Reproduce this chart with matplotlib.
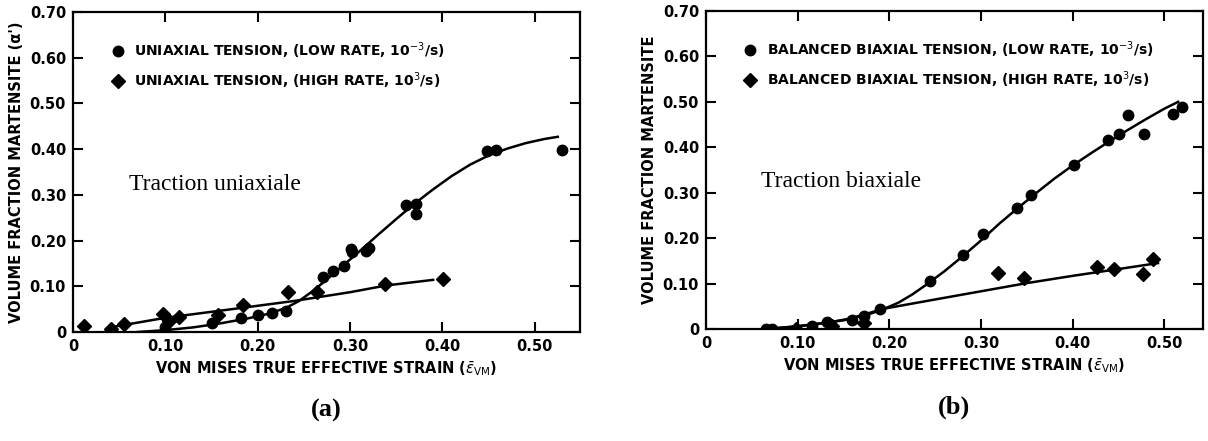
import matplotlib
matplotlib.use("Agg")
import matplotlib.pyplot as plt

# (a) uniaxial tension: measured points
uni_low_x = [0.100, 0.151, 0.182, 0.200, 0.216, 0.231, 0.271, 0.282, 0.293, 0.301, 0.302,
             0.317, 0.321, 0.361, 0.371, 0.371, 0.448, 0.458, 0.530]
uni_low_y = [0.010, 0.020, 0.031, 0.037, 0.041, 0.045, 0.121, 0.134, 0.145, 0.181, 0.174,
             0.177, 0.184, 0.277, 0.281, 0.259, 0.396, 0.398, 0.398]
uni_high_x = [0.012, 0.041, 0.055, 0.098, 0.104, 0.115, 0.157, 0.184, 0.233, 0.264, 0.338, 0.401]
uni_high_y = [0.014, 0.006, 0.018, 0.039, 0.025, 0.033, 0.037, 0.058, 0.087, 0.087, 0.106, 0.116]

# (a) fitted curves
uni_low_fit_x = [0.07, 0.10, 0.13, 0.16, 0.19, 0.21, 0.23, 0.245, 0.26, 0.275, 0.29, 0.31,
                 0.33, 0.35, 0.37, 0.39, 0.41, 0.43, 0.45, 0.47, 0.49, 0.51, 0.525]
uni_low_fit_y = [0.000, 0.004, 0.010, 0.019, 0.030, 0.039, 0.052, 0.068, 0.090, 0.115, 0.141,
                 0.176, 0.212, 0.247, 0.281, 0.312, 0.341, 0.366, 0.386, 0.401, 0.413, 0.422, 0.427]
uni_high_fit_x = [0.04, 0.10, 0.18, 0.24, 0.30, 0.34, 0.39]
uni_high_fit_y = [0.010, 0.031, 0.052, 0.068, 0.087, 0.102, 0.114]

# (b) balanced biaxial tension: measured points
bi_low_x = [0.066, 0.072, 0.116, 0.132, 0.159, 0.172, 0.190, 0.244, 0.280, 0.302, 0.339,
            0.355, 0.401, 0.439, 0.451, 0.460, 0.478, 0.509, 0.519]
bi_low_y = [0.000, 0.000, 0.007, 0.015, 0.019, 0.028, 0.043, 0.106, 0.162, 0.208, 0.267,
            0.296, 0.360, 0.417, 0.430, 0.471, 0.430, 0.474, 0.488]
bi_high_x = [0.098, 0.137, 0.172, 0.319, 0.347, 0.426, 0.445, 0.477, 0.488]
bi_high_y = [0.000, 0.006, 0.013, 0.123, 0.112, 0.137, 0.133, 0.120, 0.155]

# (b) fitted curves
bi_low_fit_x = [0.066, 0.10, 0.13, 0.16, 0.18, 0.195, 0.21, 0.225, 0.24, 0.26, 0.28, 0.30,
                0.32, 0.34, 0.36, 0.38, 0.40, 0.42, 0.44, 0.46, 0.48, 0.50, 0.515]
bi_low_fit_y = [0.000, 0.006, 0.013, 0.024, 0.034, 0.045, 0.058, 0.076, 0.097, 0.127, 0.160,
                0.195, 0.232, 0.266, 0.299, 0.331, 0.360, 0.387, 0.413, 0.438, 0.462, 0.485, 0.500]
bi_high_fit_x = [0.066, 0.10, 0.15, 0.195, 0.25, 0.30, 0.35, 0.40, 0.45, 0.493]
bi_high_fit_y = [0.000, 0.006, 0.019, 0.045, 0.065, 0.083, 0.101, 0.117, 0.132, 0.145]

xticks = [0, 0.1, 0.2, 0.3, 0.4, 0.5]
xtick_labels = ["0", "0.10", "0.20", "0.30", "0.40", "0.50"]
yticks = [0, 0.1, 0.2, 0.3, 0.4, 0.5, 0.6, 0.7]
ytick_labels = ["0", "0.10", "0.20", "0.30", "0.40", "0.50", "0.60", "0.70"]

plt.rcParams["font.family"] = "DejaVu Sans"
plt.rcParams["mathtext.fontset"] = "dejavusans"

fig = plt.figure(figsize=(12.08, 4.41), dpi=100)
ax1 = fig.add_axes([0.0604, 0.2472, 0.4197, 0.7256])
ax2 = fig.add_axes([0.5844, 0.2540, 0.4114, 0.7211])

xlab = r"VON MISES TRUE EFFECTIVE STRAIN ($\bar{\epsilon}_{\mathrm{VM}}$)"


def panel(ax, lo_x, lo_y, hi_x, hi_y, lfx, lfy, hfx, hfy, labels, ylab, note, tag, xmax):
    ax.plot(lfx, lfy, color="black", lw=1.8)
    ax.plot(hfx, hfy, color="black", lw=1.8)
    p1, = ax.plot(lo_x, lo_y, "o", color="black", ms=7.5, ls="none")
    p2, = ax.plot(hi_x, hi_y, "D", color="black", ms=7.5, ls="none")
    ax.set_xlim(0, xmax)
    ax.set_ylim(0, 0.70)
    ax.set_xticks(xticks)
    ax.set_xticklabels(xtick_labels)
    ax.set_yticks(yticks)
    ax.set_yticklabels(ytick_labels)
    ax.tick_params(direction="in", length=7, width=1.5, top=True, right=True,
                   labelsize=10.5, pad=5)
    for lab in ax.get_xticklabels() + ax.get_yticklabels():
        lab.set_fontweight("bold")
    for s in ax.spines.values():
        s.set_linewidth(1.6)
    ax.set_xlabel(xlab, fontsize=10.5, fontweight="bold", labelpad=4)
    ax.set_ylabel(ylab, fontsize=10.5, fontweight="bold", labelpad=4)
    ax.legend([p1, p2], labels, loc="upper left", bbox_to_anchor=(0.055, 0.95),
              frameon=False, handlelength=0.6, handletextpad=0.9, labelspacing=0.65,
              prop={"weight": "semibold", "size": 10})
    ax.text(0.11, 0.445, note, transform=ax.transAxes, fontsize=17,
            family="Liberation Serif")
    ax.text(0.5, -0.21, tag, transform=ax.transAxes, fontsize=19, fontweight="bold",
            family="Liberation Serif", ha="center", va="top")


panel(ax1, uni_low_x, uni_low_y, uni_high_x, uni_high_y,
      uni_low_fit_x, uni_low_fit_y, uni_high_fit_x, uni_high_fit_y,
      [r"UNIAXIAL TENSION, (LOW RATE, 10$^{-3}$/s)",
       r"UNIAXIAL TENSION, (HIGH RATE, 10$^{3}$/s)"],
      "VOLUME FRACTION MARTENSITE (α')", "Traction uniaxiale", "(a)", 0.549)

panel(ax2, bi_low_x, bi_low_y, bi_high_x, bi_high_y,
      bi_low_fit_x, bi_low_fit_y, bi_high_fit_x, bi_high_fit_y,
      [r"BALANCED BIAXIAL TENSION, (LOW RATE, 10$^{-3}$/s)",
       r"BALANCED BIAXIAL TENSION, (HIGH RATE, 10$^{3}$/s)"],
      "VOLUME FRACTION MARTENSITE", "Traction biaxiale", "(b)", 0.542)

fig.savefig("out.png", dpi=100)
